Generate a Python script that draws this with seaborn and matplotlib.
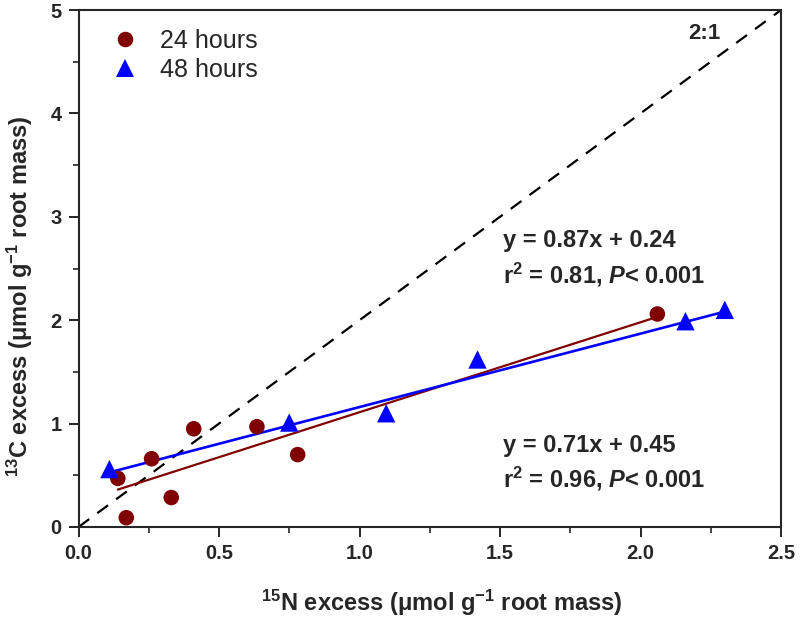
import numpy as np
import pandas as pd
import matplotlib
matplotlib.use('Agg')
import matplotlib.pyplot as plt
import seaborn as sns
from matplotlib.ticker import MultipleLocator
from matplotlib.lines import Line2D

# ---- data ----
x24 = [0.14, 0.17, 0.26, 0.33, 0.41, 0.635, 0.78, 2.06]
y24 = [0.47, 0.09, 0.66, 0.285, 0.95, 0.97, 0.70, 2.06]
x48 = [0.11, 0.75, 1.095, 1.42, 2.16, 2.30]
y48 = [0.56, 1.01, 1.10, 1.62, 1.99, 2.10]
groups = ['24 hours', '48 hours']
slopes = [0.87, 0.71]
intercepts = [0.24, 0.45]
ratio_x = [0.0, 2.5]
ratio_y = [0.0, 5.0]
eq_texts = ['y = 0.87x + 0.24', 'y = 0.71x + 0.45']
r2_texts = ['r$^2$ = 0.81, $\\mathit{P}$< 0.001', 'r$^2$ = 0.96, $\\mathit{P}$< 0.001']

colors = {'24 hours': '#800000', '48 hours': '#0000FF'}
markers = {'24 hours': 'o', '48 hours': '^'}
msizes = {'24 hours': 125, '48 hours': 175}

sns.set_theme(style='ticks')
plt.rcParams['font.family'] = ['Liberation Sans', 'DejaVu Sans']
plt.rcParams['mathtext.fontset'] = 'custom'
plt.rcParams['mathtext.rm'] = 'Liberation Sans:bold'
plt.rcParams['mathtext.it'] = 'Liberation Sans:bold:italic'
plt.rcParams['mathtext.bf'] = 'Liberation Sans:bold'

fig = plt.figure(figsize=(8, 6.17), dpi=100)
ax = fig.add_axes([78.5/800, 90/617, (781-78.5)/800, (527-10)/617])

# 2:1 line
ax.plot(ratio_x, ratio_y, color='black', lw=1.6, ls=(0, (6, 4.5)), zorder=1)

xs = {'24 hours': x24, '48 hours': x48}
ys = {'24 hours': y24, '48 hours': y48}

# regression lines
lw = {'24 hours': 1.6, '48 hours': 1.9}
for g, b, a in zip(groups, slopes, intercepts):
    xr = np.array([min(xs[g]), max(xs[g])])
    df_line = pd.DataFrame({'x': xr, 'y': b * xr + a})
    sns.lineplot(data=df_line, x='x', y='y', color=colors[g], lw=lw[g], ax=ax, zorder=2)

# points
for g in groups:
    df = pd.DataFrame({'x': xs[g], 'y': ys[g]})
    sns.scatterplot(data=df, x='x', y='y', color=colors[g], marker=markers[g],
                    s=msizes[g], edgecolor='none', linewidth=0, ax=ax, zorder=3)

ax.set_xlim(0, 2.5)
ax.set_ylim(0, 5)
ax.xaxis.set_major_locator(MultipleLocator(0.5))
ax.xaxis.set_minor_locator(MultipleLocator(0.25))
ax.yaxis.set_major_locator(MultipleLocator(1))
ax.yaxis.set_minor_locator(MultipleLocator(0.5))
ax.set_xticklabels([f'{v:.1f}' for v in ax.get_xticks()])
ax.tick_params(which='major', direction='out', length=7, width=1.4, labelsize=14.5, pad=5)
ax.tick_params(which='minor', direction='out', length=4, width=1.2)
for lab in ax.get_xticklabels() + ax.get_yticklabels():
    lab.set_fontweight('bold')
for sp in ax.spines.values():
    sp.set_linewidth(1.5)
    sp.set_visible(True)

ax.set_xlabel('$^{15}$N excess (μmol g$^{-1}$ root mass)', fontsize=17, fontweight='bold')
ax.set_ylabel('$^{13}$C excess (μmol g$^{-1}$ root mass)', fontsize=17, fontweight='bold')
ax.xaxis.set_label_coords(0.517, -0.117)
ax.yaxis.set_label_coords(-0.062, 0.447)

# annotations
ax.text(2.169, 4.77, '2:1', fontsize=16, fontweight='bold', ha='left', va='center')
eq_pos = [(1.512, 2.705), (1.512, 0.73)]
for (tx, ty), e, r in zip(eq_pos, eq_texts, r2_texts):
    ax.text(tx, ty, e, fontsize=17, fontweight='bold', ha='left', va='baseline')
    ax.text(tx, ty - 0.345, r, fontsize=17, fontweight='bold', ha='left', va='baseline')

handles = [Line2D([], [], ls='none', marker=markers[g], color=colors[g],
                  markersize=np.sqrt(msizes[g]), markeredgewidth=0) for g in groups]
ax.legend(handles, groups, loc='upper left', bbox_to_anchor=(0.0484, 0.964), frameon=False,
          fontsize=18, handletextpad=0.9, labelspacing=0.22, borderpad=0, borderaxespad=0,
          handlelength=1.0)

fig.savefig('out.png', dpi=100)
